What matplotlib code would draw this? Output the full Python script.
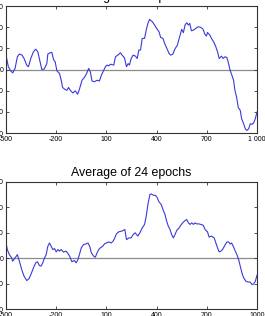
import numpy as np
import matplotlib.pyplot as plt

plt.rcParams['font.family'] = ['Liberation Sans', 'DejaVu Sans']

title_text = "Average of 24 epochs"

# top panel: time (ms) and amplitude
t_top = [-500, -486, -472, -460, -446, -432, -420, -404, -392, -376, -366, -352, -336, -322,
         -310, -296, -286, -272, -256, -250, -236, -226, -216, -206, -196, -180, -170, -162,
         -146, -136, -126, -116, -100, -86, -72, -60, -46, -32, -20, -6, 4, 14, 28, 44, 58,
         70, 84, 94, 104, 114, 124, 144, 154, 168, 184, 194, 208, 220, 230, 238, 248, 260,
         274, 284, 294, 304, 314, 328, 338, 348, 358, 374, 388, 400, 414, 424, 438, 448, 464,
         474, 484, 498, 508, 524, 538, 550, 560, 570, 580, 590, 598, 608, 620, 634, 648, 664,
         678, 688, 698, 704, 718, 728, 744, 754, 764, 774, 788, 798, 808, 820, 830, 840, 850,
         860, 868, 878, 888, 900, 908, 920, 930, 940, 950, 960, 970, 980, 990, 1000]
v_top = [6.8, 1.3, -0.6, -1.6, 0.5, 6.0, 7.3, 6.8, 5.2, 2.0, 1.3, 5.2, 8.4, 9.6,
         8.4, 3.6, 0.0, 0.2, 2.8, 7.3, 7.9, 8.1, 4.7, 3.6, -0.6, -1.9, -5.1, -8.5,
         -9.5, -9.8, -8.5, -9.8, -11.1, -10.1, -11.7, -9.0, -5.1, -3.8, -2.2, 0.5, -1.1, -5.4, -5.8, -5.1, -5.4,
         -2.7, -0.3, 1.3, 2.1, 1.7, 2.5, 2.1, 6.0, 6.8, 7.9, 6.8, 5.5, 1.3, 2.8, 2.1, 5.2, 6.8,
         6.3, 5.2, 9.2, 9.2, 14.7, 14.7, 18.6, 21.8, 23.7, 22.6, 21.0, 19.4, 17.9, 15.2, 14.7, 12.3, 9.5,
         7.6, 6.8, 7.3, 9.5, 11.5, 15.5, 19.0, 17.4, 21.0, 22.1, 21.0, 21.8, 18.3, 18.6, 19.4, 20.2, 19.9,
         19.0, 16.7, 15.8, 17.5, 16.3, 14.7, 12.6, 10.7, 8.4, 5.2, 6.3, 5.2, 6.0, 5.7, 2.8, -0.6, -2.7,
         -5.1, -9.8, -13.0, -18.0, -19.3, -23.2, -25.6, -28.0, -28.8, -28.0, -25.6, -25.9, -25.3, -23.2, -20.1]

# bottom panel
t_bot = [-500, -492, -480, -466, -460, -446, -432, -420, -406, -392,
         -376, -362, -350, -336, -322, -312, -300, -290, -280, -270,
         -260, -250, -240, -230, -220, -210, -200, -190, -180, -170,
         -156, -142, -132, -120, -106, -92, -80, -70, -60, -50,
         -36, -22, -10, 0, 10, 24, 34, 44, 54, 64,
         78, 88, 100, 114, 128, 140, 150, 160, 174, 188,
         200, 210, 220, 234, 248, 260, 272, 280, 288, 300,
         314, 328, 338, 348, 360, 368, 380, 394, 404, 414,
         428, 440, 450, 460, 470, 480, 490, 500, 510, 520,
         534, 548, 560, 570, 580, 590, 600, 610, 620, 630,
         640, 654, 664, 678, 690, 704, 714, 728, 744, 754,
         764, 774, 784, 794, 808, 820, 830, 840, 848, 858,
         870, 880, 890, 900, 910, 920, 934, 948, 960, 970,
         980, 990, 1000]
v_bot = [6.0, 3.4, 1.4, 0.1, -1.2, 0.1, 1.4, -1.2, -4.5, -7.1,
         -8.8, -8.0, -6.2, -3.8, -1.8, -1.4, -2.9, -3.1, -1.8, 0.1,
         1.4, 4.7, 6.0, 4.7, 3.4, 3.8, 2.5, 3.4, 2.8, 3.4,
         2.4, 2.8, 2.1, 0.8, -1.4, -0.9, -1.8, -0.5, 1.7, 4.1,
         5.4, 5.6, 6.0, 4.7, 2.1, 0.8, 0.4, 2.1, 3.4, 4.1,
         4.7, 5.6, 6.0, 6.4, 6.0, 6.7, 8.0, 9.6, 10.4, 10.6,
         10.9, 11.3, 7.3, 8.0, 8.0, 9.3, 10.0, 9.3, 8.7, 10.0,
         11.9, 13.3, 16.5, 21.1, 25.1, 25.3, 24.8, 24.7, 23.8, 22.2,
         21.1, 18.8, 17.2, 14.6, 12.6, 11.3, 9.3, 8.0, 9.3, 10.9,
         11.9, 13.3, 14.2, 14.8, 15.2, 13.9, 13.3, 13.9, 13.3, 13.9,
         13.5, 13.5, 13.3, 13.0, 11.3, 10.4, 8.3, 8.7, 8.0, 6.0,
         4.1, 2.5, 2.8, 3.4, 5.1, 6.4, 6.4, 5.6, 6.0, 4.7,
         2.8, 1.4, -0.5, -3.1, -5.8, -7.7, -9.1, -9.4, -9.4, -10.4,
         -10.1, -9.1, -6.7]

fig = plt.figure(figsize=(2.65, 3.16), dpi=100)
ax1 = fig.add_axes([6 / 265, 1 - 133 / 316, 251 / 265, 127 / 316])
ax2 = fig.add_axes([6 / 265, 1 - 309 / 316, 251 / 265, 127 / 316])

line_col = '#3a3ad8'

ax1.plot(t_top, v_top, color=line_col, lw=0.8)
ax1.set_ylim(-30, 30)
ax1.set_yticks(np.arange(-30, 31, 10))
ax1.set_xticks([-500, -200, 100, 400, 700, 1000])
ax1.set_xticklabels(['-500', '-200', '100', '400', '700', '1 000'])

ax2.plot(t_bot, v_bot, color=line_col, lw=0.8)
ax2.set_ylim(-20, 30)
ax2.set_yticks(np.arange(-20, 31, 10))
ax2.set_xticks([-500, -200, 100, 400, 700, 1000])
ax2.set_xticklabels(['-500', '-200', '100', '400', '700', '1000'])

for ax in (ax1, ax2):
    ax.axhline(0, color='#8c8c8c', lw=0.9, zorder=0)
    ax.set_xlim(-500, 1000)
    ax.set_title(title_text, fontsize=8.9, pad=4)
    ax.tick_params(direction='in', length=2, width=0.6, labelsize=5, pad=2,
                   top=True, right=True, color='#333333')
    for sp in ax.spines.values():
        sp.set_color('#333333')
        sp.set_linewidth(0.8)

plt.savefig('out.png', dpi=100)
